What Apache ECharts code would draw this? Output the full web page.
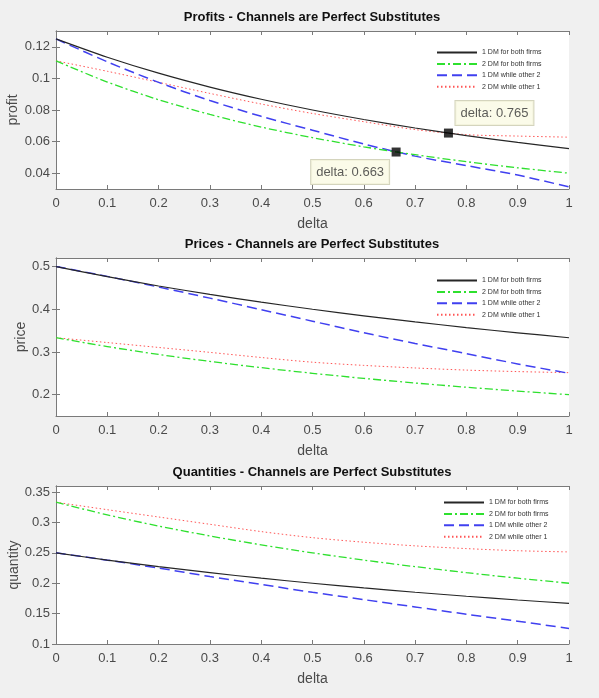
<!DOCTYPE html>
<html>
<head>
<meta charset="utf-8">
<script src="https://cdn.jsdelivr.net/npm/echarts@6/dist/echarts.min.js"></script>
<style>
  html, body { margin: 0; padding: 0; background: #f0f0f0; }
  #chart { width: 599px; height: 698px; }
</style>
</head>
<body>
<div id="chart"></div>
<script>
// delta values sampled along the x axis
const deltas = [0, 0.1, 0.2, 0.3, 0.4, 0.5, 0.6, 0.7, 0.8, 0.9, 1]
const seriesNames = ['1 DM for both firms', '2 DM for both firms', '1 DM while other 2', '2 DM while other 1']

// profits
const profitOne = [0.125, 0.1134, 0.1033, 0.0945, 0.0868, 0.08, 0.074, 0.0686, 0.0638, 0.0595, 0.0556]
const profitTwo = [0.1111, 0.0977, 0.0865, 0.0772, 0.0692, 0.0625, 0.0567, 0.0517, 0.0473, 0.0434, 0.04]
const profitOneVsTwo = [0.125, 0.1105, 0.0975, 0.086, 0.076, 0.0672, 0.0585, 0.0508, 0.0448, 0.0388, 0.0313]
const profitTwoVsOne = [0.1111, 0.1045, 0.0975, 0.0905, 0.0838, 0.0778, 0.0726, 0.0676, 0.0644, 0.0635, 0.0628]

// prices
const priceOne = [0.5, 0.4762, 0.4545, 0.4348, 0.4167, 0.4, 0.3846, 0.3704, 0.3571, 0.3448, 0.3333]
const priceTwo = [0.3333, 0.3125, 0.2941, 0.2778, 0.2632, 0.25, 0.2381, 0.2273, 0.2174, 0.2083, 0.2]
const priceOneVsTwo = [0.5, 0.477, 0.452, 0.426, 0.399, 0.372, 0.345, 0.32, 0.296, 0.272, 0.25]
const priceTwoVsOne = [0.3333, 0.322, 0.3105, 0.299, 0.287, 0.276, 0.2685, 0.2625, 0.2575, 0.254, 0.2515]

// quantities
const qtyOne = [0.25, 0.2381, 0.2273, 0.2174, 0.2083, 0.2, 0.1923, 0.1852, 0.1786, 0.1724, 0.1667]
const qtyTwo = [0.3333, 0.3125, 0.2941, 0.2778, 0.2632, 0.25, 0.2381, 0.2273, 0.2174, 0.2083, 0.2]
const qtyOneVsTwo = [0.25, 0.238, 0.225, 0.211, 0.198, 0.185, 0.173, 0.161, 0.149, 0.1375, 0.1255]
const qtyTwoVsOne = [0.3333, 0.321, 0.309, 0.297, 0.285, 0.275, 0.2675, 0.2615, 0.257, 0.2535, 0.2515]

// tick labels
const xTicks = [0, 0.1, 0.2, 0.3, 0.4, 0.5, 0.6, 0.7, 0.8, 0.9, 1]
const profitTicks = [0.04, 0.06, 0.08, 0.1, 0.12]
const priceTicks = [0.2, 0.3, 0.4, 0.5]
const qtyTicks = [0.1, 0.15, 0.2, 0.25, 0.3, 0.35]

// data tips on the profit plot
const tipDelta = [0.663, 0.765]
const tipProfit = [0.0534, 0.0654]
const tipOffsets = [[-46, 20], [46, -20]]

const lineStyles = [
  { color: '#262626', width: 1.2, type: 'solid' },
  { color: '#2ee02e', width: 1.3, type: [8, 3, 2, 3] },
  { color: '#4040f0', width: 1.5, type: [10, 5] },
  { color: '#ff5555', width: 1, type: [1.5, 2.5] }
]

const panels = [
  { title: 'Profits - Channels are Perfect Substitutes', yName: 'profit', top: 31, min: 0.03, max: 0.13,
    ticks: profitTicks, data: [profitOne, profitTwo, profitOneVsTwo, profitTwoVsOne], nameGap: 36, legendLeft: 436, legendTop: 49 },
  { title: 'Prices - Channels are Perfect Substitutes', yName: 'price', top: 258, min: 0.15, max: 0.52,
    ticks: priceTicks, data: [priceOne, priceTwo, priceOneVsTwo, priceTwoVsOne], nameGap: 28, legendLeft: 436, legendTop: 277 },
  { title: 'Quantities - Channels are Perfect Substitutes', yName: 'quantity', top: 486, min: 0.1, max: 0.36,
    ticks: qtyTicks, data: [qtyOne, qtyTwo, qtyOneVsTwo, qtyTwoVsOne], nameGap: 35, legendLeft: 443, legendTop: 499 }
]

const axisColor = '#7a7a7a'
const labelColor = '#4a4a4a'
const font = 'Liberation Sans, Arial, sans-serif'

const grid = [], xAxis = [], yAxis = [], title = [], legend = [], series = []

panels.forEach((p, i) => {
  grid.push({
    left: 56, right: 30, top: p.top, height: 158, show: true, backgroundColor: '#fff', borderWidth: 0,
    outerBoundsMode: 'none', containLabel: false
  })
  title.push({
    text: p.title, left: 312, top: p.top - 20, textAlign: 'center', padding: 0,
    textStyle: { fontSize: 13, fontWeight: 'bold', color: '#111', fontFamily: font }
  })
  legend.push({
    data: seriesNames, orient: 'vertical', left: p.legendLeft, top: p.legendTop, padding: 0,
    itemWidth: 40, itemHeight: 8, itemGap: 4.4, selectedMode: false,
    itemStyle: { opacity: 0 },
    textStyle: { fontSize: 7, color: '#333', fontFamily: font }
  })
  // bottom x axis
  xAxis.push({
    type: 'value', gridIndex: i, min: 0, max: 1, name: 'delta', nameLocation: 'middle', nameGap: 28,
    nameMoveOverlap: false,
    nameTextStyle: { fontSize: 14, color: labelColor, fontFamily: font },
    axisLine: { show: true, lineStyle: { color: axisColor } },
    axisTick: { inside: true, length: 4, customValues: xTicks, lineStyle: { color: axisColor } },
    axisLabel: { customValues: xTicks, fontSize: 13, color: labelColor, margin: 8, fontFamily: font },
    splitLine: { show: false }
  })
  // top x axis (box)
  xAxis.push({
    type: 'value', gridIndex: i, position: 'top', min: 0, max: 1,
    axisLine: { show: true, lineStyle: { color: axisColor } },
    axisTick: { inside: true, length: 4, customValues: xTicks, lineStyle: { color: axisColor } },
    axisLabel: { show: false }, splitLine: { show: false }
  })
  yAxis.push({
    type: 'value', gridIndex: i, min: p.min, max: p.max, name: p.yName, nameLocation: 'middle', nameGap: p.nameGap,
    nameMoveOverlap: false,
    nameTextStyle: { fontSize: 14, color: labelColor, fontFamily: font },
    axisLine: { show: true, lineStyle: { color: axisColor } },
    axisTick: { inside: true, length: 4, customValues: p.ticks, lineStyle: { color: axisColor } },
    axisLabel: { customValues: p.ticks, fontSize: 13, color: labelColor, margin: 6, fontFamily: font },
    splitLine: { show: false }
  })
  yAxis.push({
    type: 'value', gridIndex: i, position: 'right', min: p.min, max: p.max,
    axisLine: { show: true, lineStyle: { color: axisColor } },
    axisTick: { inside: true, length: 4, customValues: p.ticks, lineStyle: { color: axisColor } },
    axisLabel: { show: false }, splitLine: { show: false }
  })
  p.data.forEach((vals, k) => {
    series.push({
      name: seriesNames[k], type: 'line', xAxisIndex: i * 2, yAxisIndex: i * 2,
      data: deltas.map((d, j) => [d, vals[j]]),
      symbol: 'none', smooth: 0.3, lineStyle: lineStyles[k], itemStyle: { color: lineStyles[k].color },
      z: 4 - k
    })
  })
})

series.push({
  name: 'tip', type: 'scatter', xAxisIndex: 0, yAxisIndex: 0, symbol: 'rect', symbolSize: 9, z: 10,
  itemStyle: { color: '#000' },
  data: tipDelta.map((d, j) => ({ value: [d, tipProfit[j]], label: { offset: tipOffsets[j] } })),
  label: {
    show: true, position: 'inside', formatter: (params) => 'delta: ' + params.value[0],
    fontSize: 13, color: '#333', fontFamily: font,
    backgroundColor: '#fafae3', borderColor: '#c9c9ad', borderWidth: 1, padding: [6, 5, 5, 5]
  }
})

const myChart = echarts.init(document.getElementById('chart'), null, { renderer: 'canvas' })
myChart.setOption({ animation: false, backgroundColor: '#f0f0f0', title, legend, grid, xAxis, yAxis, series })
</script>
</body>
</html>
